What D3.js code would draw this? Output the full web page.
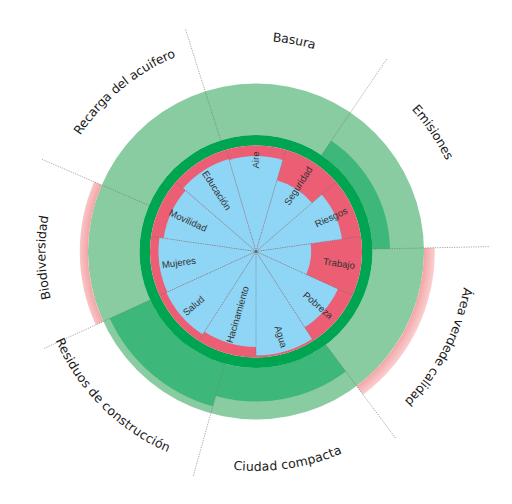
<!DOCTYPE html>
<html>
<head>
<meta charset="utf-8">
<script src="https://cdn.jsdelivr.net/npm/d3@7"></script>
<style>
  html, body { margin: 0; padding: 0; background: #fff; }
  svg { display: block; }
</style>
</head>
<body>
<svg id="chart" width="512" height="504"></svg>
<script>
// social foundation, clockwise from the top
const socialNames = ['Aire', 'Seguridad', 'Riesgos', 'Trabajo', 'Pobreza', 'Agua', 'Hacinamiento', 'Salud', 'Mujeres', 'Movilidad', 'Educación']
const socialValues = [90, 70, 82, 52, 85, 98, 90, 93, 92, 88, 91]

// ecological ceiling, clockwise from the top
const ecoNames = ['Basura', 'Emisiones', 'Área verdede calidad', 'Ciudad compacta', 'Residuos de construcción', 'Biodiversidad', 'Recarga del acuifero']
const ecoValues = [0, 34, 121, 65, 86, 116, 0]
const ecoWeight = [51.8, 54.6, 54.4, 52.4, 49.8, 47.9, 49.1]

const cx = 256, cy = 251.5
const rFoundation = 106, rRing = 116.5, rCeiling = 168, rLine = 234, rLabel = 215
const deg = Math.PI / 180
const labelNudge = [2, -5.5, 1.5, 2, 4.4, -1, 2.7]

const svg = d3.select('#chart')
const g = svg.append('g').attr('transform', `translate(${cx}, ${cy})`)

const grad = svg.append('defs').append('radialGradient')
    .attr('id', 'overshoot').attr('gradientUnits', 'userSpaceOnUse')
    .attr('cx', 0).attr('cy', 0).attr('r', 182)
grad.append('stop').attr('offset', rCeiling / 182).attr('stop-color', '#f4a5a7')
grad.append('stop').attr('offset', 1).attr('stop-color', '#fbdcdc')

const rSocial = d3.scaleLinear().domain([0, 100]).range([0, rFoundation])
const rEco = d3.scaleLinear().domain([0, 100]).range([rRing, rCeiling])

const ecoPie = d3.pie().sort(null).value(d => d.w).startAngle(-17.6 * deg).endAngle(342.4 * deg)
const ecoArcs = ecoPie(ecoNames.map((n, i) => ({name: n, value: ecoValues[i], w: ecoWeight[i]})))

const socialPie = d3.pie().sort(null).value(1).startAngle(-Math.PI / 11).endAngle(2 * Math.PI - Math.PI / 11)
const socialArcs = socialPie(socialNames.map((n, i) => ({name: n, value: socialValues[i]})))

// ceiling band
g.append('path')
    .attr('d', d3.arc().innerRadius(rRing).outerRadius(rCeiling).startAngle(0).endAngle(2 * Math.PI)())
    .attr('fill', '#89cca1')

// values under the ceiling
g.selectAll('.eco').data(ecoArcs.filter(d => d.data.value > 0 && d.data.value <= 100)).enter()
    .append('path').attr('class', 'eco')
    .attr('d', d => d3.arc().innerRadius(rRing).outerRadius(rEco(d.data.value))(d))
    .attr('fill', '#3db77a')

// overshoot
g.selectAll('.over').data(ecoArcs.filter(d => d.data.value > 100)).enter()
    .append('path').attr('class', 'over')
    .attr('d', d => d3.arc().innerRadius(rCeiling).outerRadius(rEco(d.data.value))(d))
    .attr('fill', 'url(#overshoot)')

// ring
g.append('path')
    .attr('d', d3.arc().innerRadius(rFoundation).outerRadius(rRing).startAngle(0).endAngle(2 * Math.PI)())
    .attr('fill', '#00a551')

// shortfall background
g.append('circle').attr('r', rFoundation).attr('fill', '#ec5e73')

g.selectAll('.soc').data(socialArcs).enter()
    .append('path').attr('class', 'soc')
    .attr('d', d => d3.arc().innerRadius(0).outerRadius(rSocial(d.data.value))(d))
    .attr('fill', '#8fd5f5')

// dotted dividers
const dotted = sel => sel.attr('stroke', '#6b6b6b').attr('stroke-width', 0.6).attr('stroke-dasharray', '1.2 1.2')

g.selectAll('.sline').data(socialArcs).enter()
    .append('line').attr('class', 'sline')
    .attr('x2', d => d3.pointRadial(d.startAngle, rFoundation)[0])
    .attr('y2', d => d3.pointRadial(d.startAngle, rFoundation)[1])
    .call(dotted)

g.selectAll('.eline').data(ecoArcs).enter()
    .append('line').attr('class', 'eline')
    .attr('x1', d => d3.pointRadial(d.startAngle, rRing)[0])
    .attr('y1', d => d3.pointRadial(d.startAngle, rRing)[1])
    .attr('x2', d => d3.pointRadial(d.startAngle, rLine)[0])
    .attr('y2', d => d3.pointRadial(d.startAngle, rLine)[1])
    .call(dotted)

g.append('circle').attr('r', 1.6).attr('fill', '#666')

// inner labels, radial
g.selectAll('.slabel').data(socialArcs).enter()
    .append('text').attr('class', 'slabel')
    .each(function(d) {
        const mid = (d.startAngle + d.endAngle) / 2
        const out = mid < Math.PI
        const [x, y] = d3.pointRadial(mid, out ? 100 : 95)
        d3.select(this)
            .attr('transform', `translate(${x}, ${y}) rotate(${mid / deg + (out ? -90 : 90)})`)
            .attr('text-anchor', out ? 'end' : 'start')
    })
    .attr('dy', '0.35em')
    .style('font-family', '"Liberation Sans", Arial, sans-serif')
    .style('font-size', '9.6px')
    .attr('fill', '#333')
    .text(d => d.data.name)

// outer labels along arcs
ecoArcs.forEach((d, i) => {
    const mid = (d.startAngle + d.endAngle) / 2 + labelNudge[i] * deg
    const flip = Math.cos(mid) < -0.5
    const half = 80 * deg
    const p = d3.path()
    if (!flip) p.arc(0, 0, rLabel, mid - half - Math.PI / 2, mid + half - Math.PI / 2, false)
    else p.arc(0, 0, rLabel, mid + half - Math.PI / 2, mid - half - Math.PI / 2, true)
    g.append('path').attr('id', `lp${i}`).attr('d', p.toString()).attr('fill', 'none')
    g.append('text')
        .attr('dy', '0.35em')
        .style('font-family', '"DejaVu Sans", sans-serif')
        .style('font-size', '12.5px')
        .attr('fill', '#1a1a1a')
        .append('textPath')
        .attr('href', `#lp${i}`)
        .attr('startOffset', '50%')
        .attr('text-anchor', 'middle')
        .text(d.data.name)
})
</script>
</body>
</html>
